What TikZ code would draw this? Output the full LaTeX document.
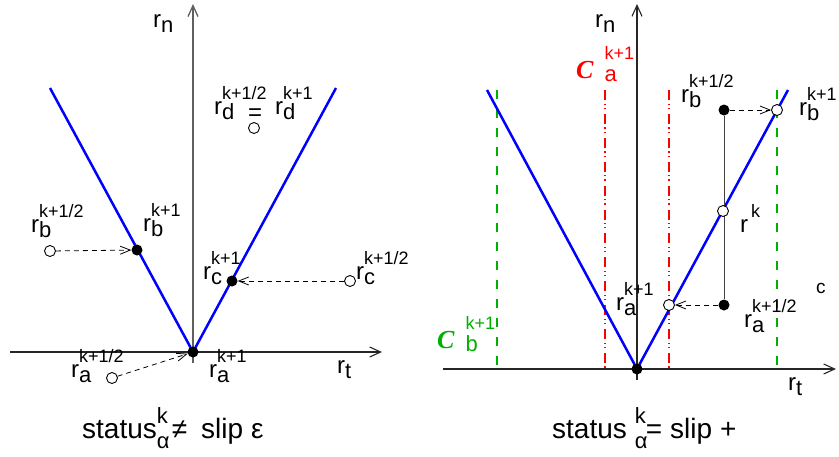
\documentclass[tikz,border=0pt]{standalone}
\usepackage{fontspec}
\setmainfont{Liberation Sans}
\newfontfamily\cfont{Liberation Serif}
\usetikzlibrary{arrows.meta}
\definecolor{vblue}{RGB}{0,0,255}
\definecolor{vgreen}{RGB}{0,176,0}
\definecolor{vred}{RGB}{255,0,0}
\newcommand\RL[3][r]{{\fontsize{24}{24}\selectfont #1}\rlap{\raisebox{-5pt}{\fontsize{22}{22}\selectfont #2}}\raisebox{15pt}{\fontsize{18}{18}\selectfont #3}}
\newcommand\CL[2]{{\cfont\bfseries\itshape\fontsize{26}{26}\selectfont C}\hspace{11pt}\rlap{\raisebox{-3pt}{\fontsize{22}{22}\selectfont #1}}\raisebox{19pt}{\fontsize{18}{18}\selectfont #2}}
\begin{document}
\begin{tikzpicture}[x=1pt,y=-1pt,
  axisL/.style={line width=1.3pt, draw=gray!75!black, -{Straight Barb[length=11pt,width=10pt]}},
  axisB/.style={line width=1.1pt, draw=black!85, -{Straight Barb[length=11pt,width=10pt]}},
  bl/.style={vblue, line width=2.5pt},
  gd/.style={vgreen, line width=2pt, dash pattern=on 9pt off 10pt},
  rd/.style={vred, line width=2pt, dash pattern=on 10pt off 3.5pt on 1.2pt off 3pt on 1.2pt off 5pt},
  dar/.style={dash pattern=on 5pt off 4pt, line width=0.8pt, -{Straight Barb[length=10pt,width=8pt]}},
  fdot/.style={circle, fill=black, inner sep=0pt, minimum size=11pt},
  odot/.style={circle, draw=black, fill=white, line width=0.9pt, inner sep=0pt, minimum size=11pt},
  lab/.style={anchor=base west, inner sep=0pt},
  captxt/.style={anchor=base west, inner sep=0pt, font=\fontsize{28}{28}\selectfont}]
\useasboundingbox (0,0) rectangle (839,456);
% ---------------- left panel ----------------
\coordinate (LnB) at (193,363);
\coordinate (LnT) at (193,4);
\coordinate (LtL) at (10,352);
\coordinate (LtR) at (382,352);
\coordinate (LvL) at (50,88);
\coordinate (LvR) at (336,88);
\draw[axisL] (LnB) -- (LnT);
\draw[axisB] (LtL) -- (LtR);
\draw[bl] (LvL) -- (193,352) -- (LvR);
\node[fdot] (La1) at (193,352) {};
\node[odot] (La2) at (112,378) {};
\node[fdot] (Lb1) at (137,250) {};
\node[odot] (Lb2) at (50,251) {};
\node[fdot] (Lc1) at (232,281) {};
\node[odot] (Lc2) at (350,281) {};
\node[odot] (Ld) at (254,128) {};
\draw[dar] (Lb2) -- (Lb1);
\draw[dar] (Lc2) -- (Lc1);
\draw[dar] (La2) -- (La1);
\node[lab] (Lrn) at (153,27) {\RL{n}{}};
\node[lab] (Lrt) at (337,373) {\RL{t}{}};
\node[lab] (Lrd2) at (214,114) {\RL{d}{k+1/2}};
\node[lab] (Leq) at (248,120) {\fontsize{24}{24}\selectfont =};
\node[lab] (Lrd1) at (275,114) {\RL{d}{k+1}};
\node[lab] (Lrb2) at (31,232) {\RL{b}{k+1/2}};
\node[lab] (Lrb1) at (143,231) {\RL{b}{k+1}};
\node[lab] (Lrc1) at (203,279) {\RL{c}{k+1}};
\node[lab] (Lrc2) at (356,279) {\RL{c}{k+1/2}};
\node[lab] (Lra2) at (71,377) {\RL{a}{k+1/2}};
\node[lab] (Lra1) at (209,377) {\RL{a}{k+1}};
\node[captxt] (Lcap) at (82,438) {status\rlap{\raisebox{-10pt}{\fontsize{22}{22}\selectfont α}}\raisebox{15pt}{\fontsize{22}{22}\selectfont k}\hspace{4pt}≠\hspace{14pt}slip ε};
% ---------------- right panel ----------------
\coordinate (RnB) at (637,380);
\coordinate (RnT) at (637,4);
\coordinate (RtL) at (443,369);
\coordinate (RtR) at (836,369);
\coordinate (RvL) at (487,90);
\coordinate (RvR) at (788,90);
\coordinate (Rg1T) at (497,90);
\coordinate (Rg1B) at (497,369);
\coordinate (Rg2T) at (777,90);
\coordinate (Rg2B) at (777,369);
\coordinate (Rr1T) at (605,90);
\coordinate (Rr1B) at (605,369);
\coordinate (Rr2T) at (669,90);
\coordinate (Rr2B) at (669,369);
\draw[gd] (Rg1T) -- (Rg1B);
\draw[gd] (Rg2T) -- (Rg2B);
\draw[rd] (Rr1T) -- (Rr1B);
\draw[rd] (Rr2T) -- (Rr2B);
\draw[axisB] (RnB) -- (RnT);
\draw[axisB] (RtL) -- (RtR);
\draw[bl] (RvL) -- (637,369) -- (RvR);
\node[fdot] (Ro) at (637,369) {};
\node[fdot] (Rb2) at (724,110) {};
\node[odot] (Rb1) at (777,110) {};
\node[fdot] (Ra2) at (724,305) {};
\node[odot] (Ra1) at (669,305) {};
\draw[line width=1pt, black!75] (Rb2) -- (Ra2);
\node[odot] (Rk) at (723,211) {};
\draw[dar] (Rb2) -- (Rb1);
\draw[dar] (Ra2) -- (Ra1);
\node[lab] (Rrn) at (595,27) {\RL{n}{}};
\node[lab] (Rrt) at (788,390) {\RL{t}{}};
\node[lab, vred] (RCa) at (576,78) {\CL{a}{k+1}};
\node[lab, vgreen] (RCb) at (437,348) {\CL{b}{k+1}};
\node[lab] (Rrb2) at (681,102) {\RL{b}{k+1/2}};
\node[lab] (Rrb1) at (799,115) {\RL{b}{k+1}};
\node[lab] (Rrk) at (740,232) {\RL{}{\hspace{3pt}k}};
\node[lab] (Rra1) at (616,310) {\RL{a}{k+1}};
\node[lab] (Rra2) at (744,327) {\RL{a}{k+1/2}};
\node[lab] (Rc) at (816,293) {\fontsize{19}{19}\selectfont c};
\node[captxt] (Rcap) at (552,438) {status\hspace{8pt}\rlap{\raisebox{-10pt}{\fontsize{22}{22}\selectfont α}}\raisebox{15pt}{\fontsize{22}{22}\selectfont k}=\hspace{8pt}slip +};
\end{tikzpicture}
\end{document}
